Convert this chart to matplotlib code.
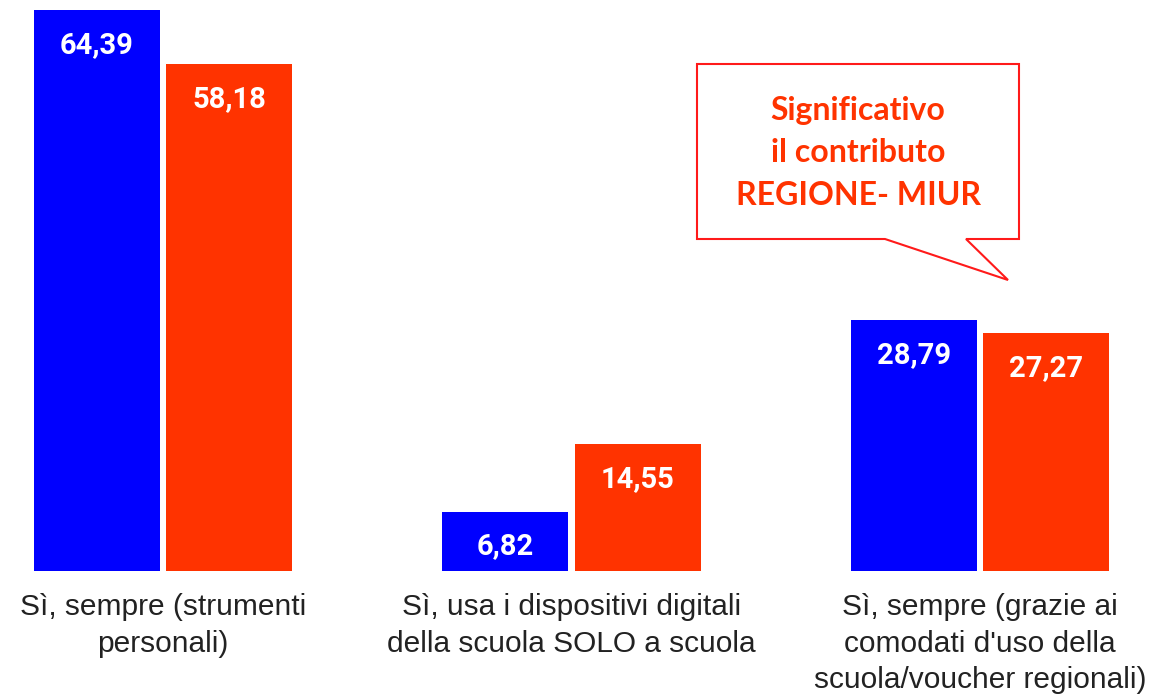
import numpy as np
import matplotlib.pyplot as plt
from matplotlib.patches import Polygon

# Data
categories = ["Sì, sempre (strumenti\npersonali)",
              "Sì, usa i dispositivi digitali\ndella scuola SOLO a scuola",
              "Sì, sempre (grazie ai\ncomodati d'uso della\nscuola/voucher regionali)"]
serie_a = [64.39, 6.82, 28.79]
serie_b = [58.18, 14.55, 27.27]
callout_text = "Significativo\nil contributo\nREGIONE- MIUR"

BLUE = "#0000ff"
RED = "#ff3300"

W, H = 1158, 695
fig = plt.figure(figsize=(W / 100, H / 100), dpi=100)
ax = fig.add_axes([0, (H - 571) / H, 1, 571 / H])

x = np.arange(len(categories))
width = 0.308
off = 0.162
bars_a = ax.bar(x - off, serie_a, width, color=BLUE)
bars_b = ax.bar(x + off, serie_b, width, color=RED)

for bars, vals in ((bars_a, serie_a), (bars_b, serie_b)):
    for b, v in zip(bars, vals):
        ax.annotate(f"{v:.2f}".replace(".", ","),
                    (b.get_x() + b.get_width() / 2, v),
                    xytext=(0, -25), textcoords="offset points",
                    ha="center", va="center", color="white",
                    fontsize=21, fontweight="bold", family="Roboto")

ax.set_xlim(-163 / 408.5, (W - 163) / 408.5)
ax.set_ylim(0, 571 / 8.71)
ax.axis("off")

# Category labels under the bars
for xi, lab in zip(x, categories):
    ax.annotate(lab, (xi, 0), xytext=(0, -16), textcoords="offset points",
                ha="center", va="top", fontsize=21.5, color="#222222",
                family="Liberation Sans", linespacing=1.38)

# Callout box (figure pixel coords, y from top)
pts = [(697, 64), (1019, 64), (1019, 239), (966, 239), (1008, 280),
       (885, 239), (697, 239)]
pts = [(px / W, 1 - py / H) for px, py in pts]
fig.patches.append(Polygon(pts, closed=True, transform=fig.transFigure,
                           facecolor="white", edgecolor="#ff1a1a", linewidth=1.5))
fig.text(858 / W, 1 - 153 / H, callout_text, ha="center", va="center",
         color=RED, fontsize=23, fontweight="bold", family="Lato",
         linespacing=1.55)

fig.savefig("out.png", dpi=100)
